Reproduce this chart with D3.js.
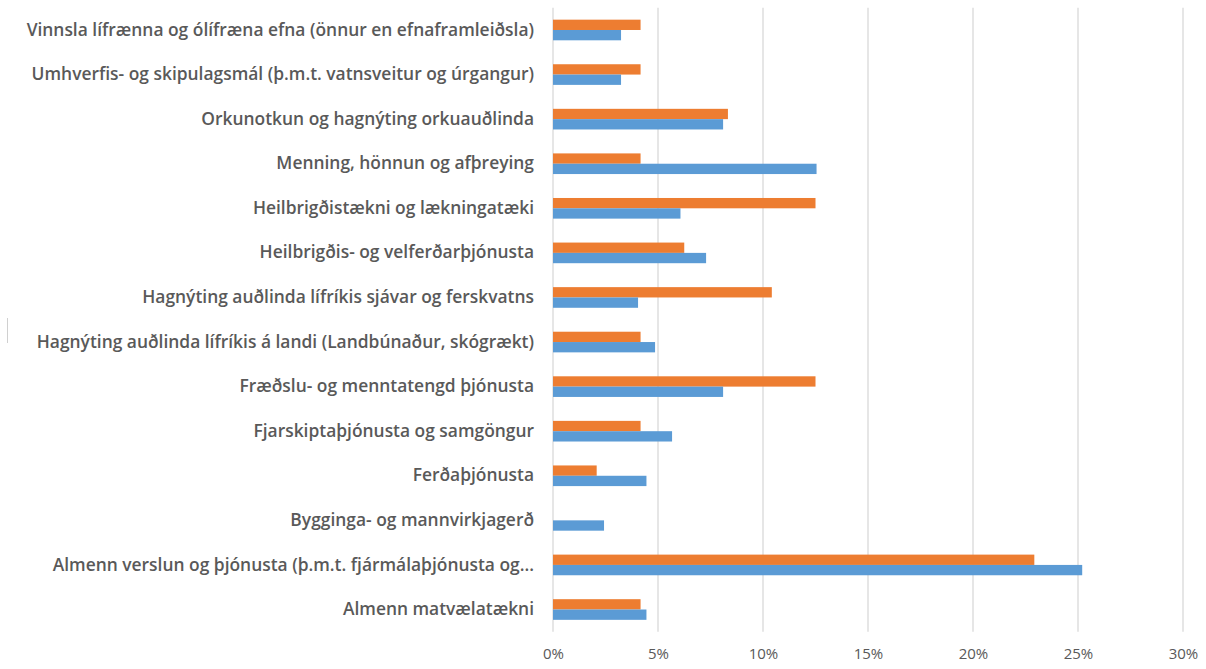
<!DOCTYPE html>
<html><head><meta charset="utf-8">
<script src="https://cdn.jsdelivr.net/npm/d3@7"></script>
<style>html,body{margin:0;padding:0;background:#fff;}svg{display:block;}</style>
</head><body>
<svg id="c" width="1206" height="669"></svg>
<script>
const categories = [
  "Vinnsla lífrænna og ólífræna efna (önnur en efnaframleiðsla)",
  "Umhverfis- og skipulagsmál (þ.m.t. vatnsveitur og úrgangur)",
  "Orkunotkun og hagnýting orkuauðlinda",
  "Menning, hönnun og afþreying",
  "Heilbrigðistækni og lækningatæki",
  "Heilbrigðis- og velferðarþjónusta",
  "Hagnýting auðlinda lífríkis sjávar og ferskvatns",
  "Hagnýting auðlinda lífríkis á landi (Landbúnaður, skógrækt)",
  "Fræðslu- og menntatengd þjónusta",
  "Fjarskiptaþjónusta og samgöngur",
  "Ferðaþjónusta",
  "Bygginga- og mannvirkjagerð",
  "Almenn verslun og þjónusta (þ.m.t. fjármálaþjónusta og...",
  "Almenn matvælatækni"
];
const orangeValues = [4.17, 4.17, 8.33, 4.17, 12.5, 6.25, 10.42, 4.17, 12.5, 4.17, 2.08, 0, 22.92, 4.17];
const blueValues   = [3.24, 3.24, 8.10, 12.55, 6.07, 7.29, 4.05, 4.86, 8.10, 5.67, 4.45, 2.43, 25.2, 4.45];
const tickValues = [0, 5, 10, 15, 20, 25, 30];
const tickLabels = ["0%", "5%", "10%", "15%", "20%", "25%", "30%"];

const svg = d3.select("#c");
const pLeft = 553, pRight = 1183, pTop = 7.7, pBottom = 631.8;
const x = d3.scaleLinear().domain([0, 30]).range([pLeft, pRight]);
const y = d3.scaleBand().domain(categories).range([pTop, pBottom]).paddingInner(0.537).paddingOuter(0.2685);
const sub = d3.scaleBand().domain(["o", "b"]).range([0, y.bandwidth()]);

// gridlines
svg.append("g").selectAll("line").data(tickValues).join("line")
  .attr("x1", d => x(d)).attr("x2", d => x(d))
  .attr("y1", pTop).attr("y2", pBottom)
  .attr("stroke", "#d9d9d9").attr("stroke-width", 1.3);

// bars
const g = svg.append("g");
g.selectAll("rect.o").data(categories).join("rect").attr("class", "o")
  .attr("x", x(0)).attr("y", d => y(d) + sub("o"))
  .attr("width", (d, i) => x(orangeValues[i]) - x(0))
  .attr("height", sub.bandwidth())
  .attr("fill", "#ED7D31");
g.selectAll("rect.b").data(categories).join("rect").attr("class", "b")
  .attr("x", x(0)).attr("y", d => y(d) + sub("b"))
  .attr("width", (d, i) => x(blueValues[i]) - x(0))
  .attr("height", sub.bandwidth())
  .attr("fill", "#5B9BD5");

// category labels
const yAxis = d3.axisLeft(y).tickSize(0).tickPadding(19);
const ya = svg.append("g").attr("transform", `translate(${pLeft},0)`).call(yAxis);
ya.select(".domain").remove();
ya.selectAll("text").attr("font-family", "'Open Sans', sans-serif").attr("font-weight", 600)
  .attr("font-size", 17.4).attr("fill", "#595959");

// x axis tick labels
const xAxis = d3.axisBottom(x).tickValues(tickValues).tickFormat((d, i) => tickLabels[i]).tickSize(0).tickPadding(16.5);
const xa = svg.append("g").attr("transform", `translate(0,${pBottom})`).call(xAxis);
xa.select(".domain").remove();
xa.selectAll("text").attr("font-family", "'Open Sans', sans-serif").attr("font-size", 15).attr("fill", "#595959");

// small stray mark at left edge
svg.append("line").attr("x1", 7.5).attr("x2", 7.5).attr("y1", 318).attr("y2", 343)
  .attr("stroke", "#d0d0d0").attr("stroke-width", 1);
</script>
</body></html>
